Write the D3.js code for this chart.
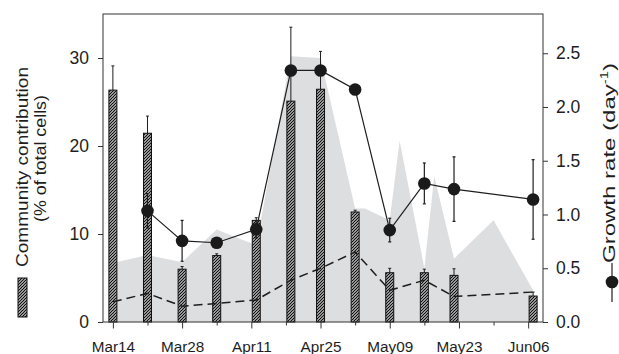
<!DOCTYPE html>
<html><head><meta charset="utf-8">
<script src="https://cdn.jsdelivr.net/npm/d3@7"></script>
<style>
body{margin:0;background:#fff}
svg{display:block}
text{font-family:"Liberation Sans",Arial,Helvetica,sans-serif;fill:#1e1e1e}
</style>
</head><body>
<svg id="chart" width="619" height="354"></svg>
<script>
// ---------------- data ----------------
const sampleDates = ["2010-03-14","2010-03-21","2010-03-28","2010-04-04","2010-04-12","2010-04-19",
                     "2010-04-25","2010-05-02","2010-05-09","2010-05-16","2010-05-22","2010-06-07"];
const contribution    = [26.35, 21.45, 6.0, 7.55, 11.55, 25.1, 26.45, 12.5, 5.6, 5.6, 5.3, 2.95];
const contributionErr = [2.75, 1.95, 0.3, 0.2, 0.3, 8.4, 4.3, 0.2, 0.5, 0.4, 0.75, 0.45];
const dashedValues    = [2.3, 3.25, 1.8, 2.1, 2.5, 4.75, 6.1, 7.96, 3.6, 4.75, 2.9, 3.4];

const growthDates = ["2010-03-21","2010-03-28","2010-04-04","2010-04-12","2010-04-19","2010-04-25",
                     "2010-05-02","2010-05-09","2010-05-16","2010-05-22","2010-06-07"];
const growthRate  = [1.034, 0.755, 0.737, 0.862, 2.34, 2.34, 2.163, 0.855, 1.289, 1.236, 1.14];
const growthErr   = [0.16, 0.19, 0, 0.08, 0, 0, 0, 0.11, 0.19, 0.3, 0.37];

const areaDates  = ["2010-03-14","2010-03-21","2010-03-28","2010-04-04","2010-04-12","2010-04-19",
                    "2010-04-25","2010-05-02","2010-05-04","2010-05-09","2010-05-11","2010-05-16",
                    "2010-05-18","2010-05-22","2010-05-30","2010-06-07"];
const areaValues = [6.7, 7.6, 6.8, 10.5, 8.7, 30.2, 30.0, 12.9, 12.9, 11.55, 20.6, 6.1, 16.6, 7.2, 11.55, 3.6];

const tickDates  = ["2010-03-14","2010-03-21","2010-03-28","2010-04-04","2010-04-11","2010-04-18",
                    "2010-04-25","2010-05-02","2010-05-09","2010-05-16","2010-05-23","2010-05-30","2010-06-06"];
const tickLabels = ["Mar14","","Mar28","","Apr11","","Apr25","","May09","","May23","","Jun06"];
const leftTicks  = [0, 10, 20, 30];
const rightTicks = [0, 0.5, 1.0, 1.5, 2.0, 2.5];

// ---------------- setup ----------------
const parse = d3.timeParse("%Y-%m-%d");
const svg = d3.select("#chart");
const L = 103, R = 543, T = 14, B = 322;

const x  = d3.scaleTime().domain([parse("2010-03-12"), parse("2010-06-09")]).range([L, R]);
const yL = d3.scaleLinear().domain([0, 35]).range([B, T]);
const yR = d3.scaleLinear().domain([0, 2.865]).range([B, T]);

const defs = svg.append("defs");
const pat = defs.append("pattern").attr("id","hatch").attr("patternUnits","userSpaceOnUse")
  .attr("width",3).attr("height",3);
pat.append("rect").attr("width",3).attr("height",3).attr("fill","#fff");
pat.append("path").attr("d","M-1,1 L1,-1 M0,3 L3,0 M2,4 L4,2")
  .attr("stroke","#111").attr("stroke-width",1.25);

const bars = sampleDates.map((d,i)=>({d:parse(d), v:contribution[i], e:contributionErr[i], dash:dashedValues[i]}));
const growth = growthDates.map((d,i)=>({d:parse(d), v:growthRate[i], e:growthErr[i]}));
const area = areaDates.map((d,i)=>({d:parse(d), v:areaValues[i]}));

// gray area
svg.append("path").datum(area)
  .attr("fill","#dddee0")
  .attr("d", d3.area().x(p=>x(p.d)).y0(yL(0)).y1(p=>yL(p.v)));

// bar error bars (upper)
const bw = 8;
const be = svg.append("g").attr("stroke","#1e1e1e").attr("stroke-width",1);
bars.forEach(b=>{
  const cx = x(b.d);
  be.append("line").attr("x1",cx).attr("x2",cx).attr("y1",yL(b.v)).attr("y2",yL(b.v+b.e));
  be.append("line").attr("x1",cx-1.5).attr("x2",cx+1.5).attr("y1",yL(b.v+b.e)).attr("y2",yL(b.v+b.e));
});

// bars
svg.append("g").selectAll("rect").data(bars).join("rect")
  .attr("x", b=>x(b.d)-bw/2).attr("width", bw)
  .attr("y", b=>yL(b.v)).attr("height", b=>yL(0)-yL(b.v))
  .attr("fill","url(#hatch)").attr("stroke","#111").attr("stroke-width",1);

// dashed line
svg.append("path").datum(bars)
  .attr("fill","none").attr("stroke","#1e1e1e").attr("stroke-width",1.5)
  .attr("stroke-dasharray","9,5")
  .attr("d", d3.line().x(b=>x(b.d)).y(b=>yL(b.dash)));

// growth error bars
const ge = svg.append("g").attr("stroke","#1e1e1e").attr("stroke-width",1.2);
growth.filter(g=>g.e>0).forEach(g=>{
  const cx = x(g.d);
  ge.append("line").attr("x1",cx).attr("x2",cx).attr("y1",yR(g.v-g.e)).attr("y2",yR(g.v+g.e));
  [g.v-g.e, g.v+g.e].forEach(v=>ge.append("line").attr("x1",cx-1.5).attr("x2",cx+1.5).attr("y1",yR(v)).attr("y2",yR(v)));
});

// growth line + points
svg.append("path").datum(growth)
  .attr("fill","none").attr("stroke","#1e1e1e").attr("stroke-width",1.2)
  .attr("d", d3.line().x(g=>x(g.d)).y(g=>yR(g.v)));
svg.append("g").selectAll("circle").data(growth).join("circle")
  .attr("cx", g=>x(g.d)).attr("cy", g=>yR(g.v)).attr("r", 6.3).attr("fill","#1a1a1a");

// frame
svg.append("rect").attr("x",L).attr("y",T).attr("width",R-L).attr("height",B-T)
  .attr("fill","none").attr("stroke","#333").attr("stroke-width",1);

// axes
const axL = svg.append("g").attr("transform",`translate(${L},0)`)
  .call(d3.axisLeft(yL).tickValues(leftTicks).tickFormat(d3.format("d")).tickSize(5).tickPadding(9));
const axR = svg.append("g").attr("transform",`translate(${R},0)`)
  .call(d3.axisRight(yR).tickValues(rightTicks).tickFormat(d3.format(".1f")).tickSize(5).tickPadding(8));
[axL, axR].forEach(a=>{
  a.select(".domain").remove();
  a.selectAll("line").attr("stroke","#333");
  a.selectAll("text").attr("font-size",17.5).attr("fill","#1e1e1e").attr("font-family",null);
});

const tickD = tickDates.map(parse);
const axB = svg.append("g").attr("transform",`translate(0,${B})`)
  .call(d3.axisBottom(x).tickValues(tickD).tickFormat((d,i)=>tickLabels[i]).tickSize(6.5).tickPadding(4));
axB.select(".domain").remove();
axB.selectAll(".tick line").attr("stroke","#333").attr("y2",(d,i)=>tickLabels[i]?6.5:3.5);
axB.selectAll("text").attr("font-size",15.3).attr("fill","#1e1e1e").attr("font-family",null)
  .attr("y",29.5).attr("dy",0);

// left title + legend
const lt = svg.append("g");
lt.append("text").attr("transform","translate(27.5,167) rotate(-90)").attr("text-anchor","middle")
  .attr("font-size",17).attr("textLength",200).attr("lengthAdjust","spacingAndGlyphs")
  .text("Community contribution");
lt.append("text").attr("transform","translate(46,158.5) rotate(-90)").attr("text-anchor","middle")
  .attr("font-size",17).attr("textLength",127).attr("lengthAdjust","spacingAndGlyphs")
  .text("(% of total cells)");
lt.append("rect").attr("x",18).attr("y",278).attr("width",9).attr("height",39)
  .attr("fill","url(#hatch)").attr("stroke","#111").attr("stroke-width",1);

// right title + legend
const rt = svg.append("text").attr("transform","translate(614.5,163) rotate(-90)")
  .attr("text-anchor","middle").attr("font-size",17)
  .attr("textLength",200).attr("lengthAdjust","spacingAndGlyphs");
rt.append("tspan").text("Growth rate (day");
rt.append("tspan").attr("font-size",10.5).attr("dy",-7).text("-1");
rt.append("tspan").attr("dy",7).text(")");
svg.append("line").attr("x1",612).attr("x2",612).attr("y1",263).attr("y2",302)
  .attr("stroke","#1e1e1e").attr("stroke-width",1.2);
svg.append("circle").attr("cx",612).attr("cy",282).attr("r",6.3).attr("fill","#1a1a1a");
</script>
</body></html>
